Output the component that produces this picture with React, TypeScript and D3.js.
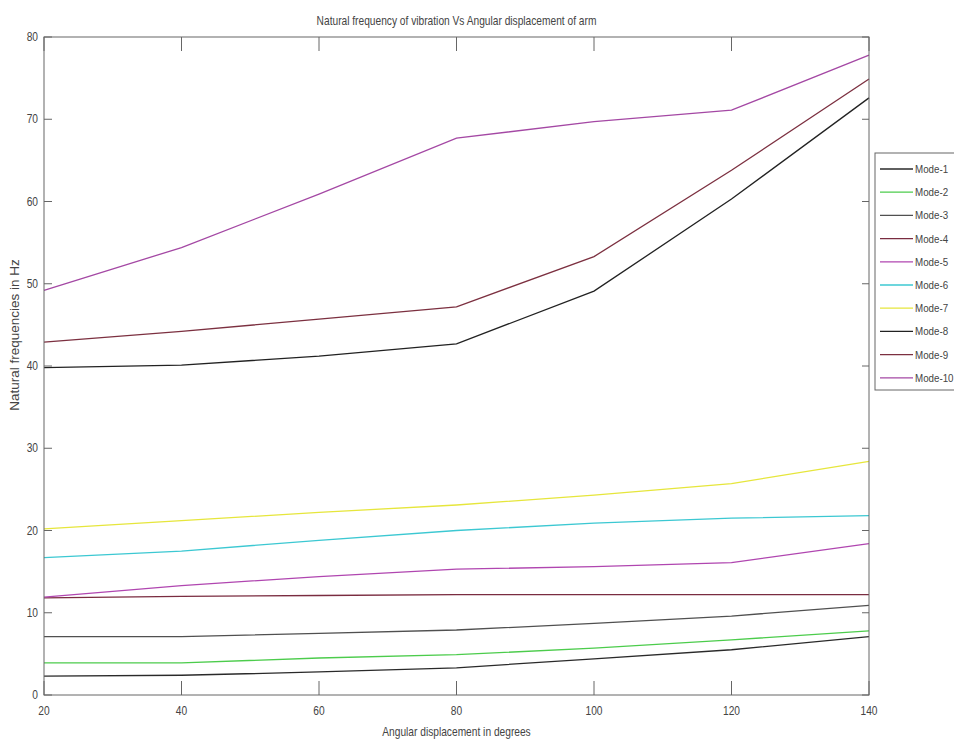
import React, { useEffect, useRef } from 'react';
import * as d3 from 'd3';

// angular displacement of arm (degrees)
const angles = [20, 40, 60, 80, 100, 120, 140];

// natural frequencies in Hz
const mode1 = [2.3, 2.4, 2.8, 3.3, 4.4, 5.5, 7.1];
const mode2 = [3.9, 3.9, 4.5, 4.9, 5.7, 6.7, 7.8];
const mode3 = [7.1, 7.1, 7.5, 7.9, 8.7, 9.6, 10.9];
const mode4 = [11.8, 12.0, 12.1, 12.2, 12.2, 12.2, 12.2];
const mode5 = [11.9, 13.3, 14.4, 15.3, 15.6, 16.1, 18.4];
const mode6 = [16.7, 17.5, 18.8, 20.0, 20.9, 21.5, 21.8];
const mode7 = [20.2, 21.2, 22.2, 23.1, 24.3, 25.7, 28.4];
const mode8 = [39.8, 40.1, 41.2, 42.7, 49.1, 60.3, 72.6];
const mode9 = [42.9, 44.2, 45.7, 47.2, 53.3, 63.8, 74.9];
const mode10 = [49.2, 54.4, 60.9, 67.7, 69.7, 71.1, 77.8];

const modeNames = ['Mode-1', 'Mode-2', 'Mode-3', 'Mode-4', 'Mode-5', 'Mode-6', 'Mode-7', 'Mode-8', 'Mode-9', 'Mode-10'];
const xTicks = [20, 40, 60, 80, 100, 120, 140];
const yTicks = [0, 10, 20, 30, 40, 50, 60, 70, 80];

const modeColors = ['#2a2a2a', '#4ccc4c', '#505050', '#7a2c40', '#b046b0', '#3cc8d2', '#e6e63c', '#222222', '#7c3040', '#a448a4'];

const FONT = '"Liberation Sans", Arial, sans-serif';
const SQUEEZE = 0.85; // text in the picture is horizontally condensed

const App = () => {
  const ref = useRef<SVGSVGElement>(null);

  useEffect(() => {
    if (!ref.current) return;
    const svg = d3.select(ref.current);
    svg.selectAll('*').remove();

    const left = 44, right = 869, top = 37, bottom = 695;
    const textColor = '#444';
    const axisColor = '#666';

    // condensed text helper
    const label = (g, tx, ty, str, anchor = 'start', size = 12) =>
      g.append('text')
        .attr('transform', `translate(${tx},${ty}) scale(${SQUEEZE},1)`)
        .attr('text-anchor', anchor)
        .style('font-family', FONT).style('font-size', `${size}px`)
        .attr('fill', textColor)
        .text(str);

    const x = d3.scaleLinear().domain([20, 140]).range([left, right]);
    const y = d3.scaleLinear().domain([0, 80]).range([bottom, top]);

    const series = [mode1, mode2, mode3, mode4, mode5, mode6, mode7, mode8, mode9, mode10];

    svg.append('rect')
      .attr('width', 954).attr('height', 742).attr('fill', '#fff');

    // lines
    const line = d3.line<number>()
      .x((_, i) => x(angles[i]))
      .y(d => y(d));

    series.forEach((s, i) => {
      svg.append('path')
        .datum(s)
        .attr('d', line)
        .attr('fill', 'none')
        .attr('stroke', modeColors[i])
        .attr('stroke-width', 1.3);
    });

    // frame
    svg.append('rect')
      .attr('x', left).attr('y', top)
      .attr('width', right - left).attr('height', bottom - top)
      .attr('fill', 'none').attr('stroke', axisColor).attr('stroke-width', 1);

    // x ticks (inward, bottom and top)
    const gx = svg.append('g');
    xTicks.forEach(t => {
      gx.append('line')
        .attr('x1', x(t)).attr('x2', x(t))
        .attr('y1', bottom).attr('y2', bottom - 14)
        .attr('stroke', axisColor);
      gx.append('line')
        .attr('x1', x(t)).attr('x2', x(t))
        .attr('y1', top).attr('y2', top + 14)
        .attr('stroke', axisColor);
      label(gx, x(t), bottom + 20, t, 'middle');
    });

    // y ticks (inward, left and right)
    const gy = svg.append('g');
    yTicks.forEach(t => {
      gy.append('line')
        .attr('x1', left).attr('x2', left + 8)
        .attr('y1', y(t)).attr('y2', y(t))
        .attr('stroke', axisColor);
      gy.append('line')
        .attr('x1', right).attr('x2', right - 7)
        .attr('y1', y(t)).attr('y2', y(t))
        .attr('stroke', axisColor);
      label(gy, left - 6, y(t) + 4, t, 'end');
    });

    // title and axis labels
    label(svg, (left + right) / 2, 25, 'Natural frequency of vibration Vs Angular displacement of arm', 'middle');
    label(svg, (left + right) / 2, 736, 'Angular displacement in degrees', 'middle');

    svg.append('text')
      .attr('transform', 'translate(19,335) rotate(-90)')
      .attr('text-anchor', 'middle')
      .style('font-family', FONT).style('font-size', '13.5px')
      .attr('fill', textColor)
      .text('Natural frequencies in Hz');

    // legend
    const lg = svg.append('g');
    lg.append('rect')
      .attr('x', 875).attr('y', 153)
      .attr('width', 90).attr('height', 237)
      .attr('fill', '#fff').attr('stroke', axisColor);
    modeNames.forEach((name, i) => {
      const ly = 169 + i * 23.2;
      lg.append('line')
        .attr('x1', 880).attr('x2', 913)
        .attr('y1', ly).attr('y2', ly)
        .attr('stroke', modeColors[i]).attr('stroke-width', 1.3);
      label(lg, 915, ly + 4, name, 'start', 11.5);
    });
  }, []);

  return (
    <svg
      ref={ref}
      width={954}
      height={742}
      style={{ position: 'absolute', left: 0, top: 0 }}
    />
  );
};

export default App;
